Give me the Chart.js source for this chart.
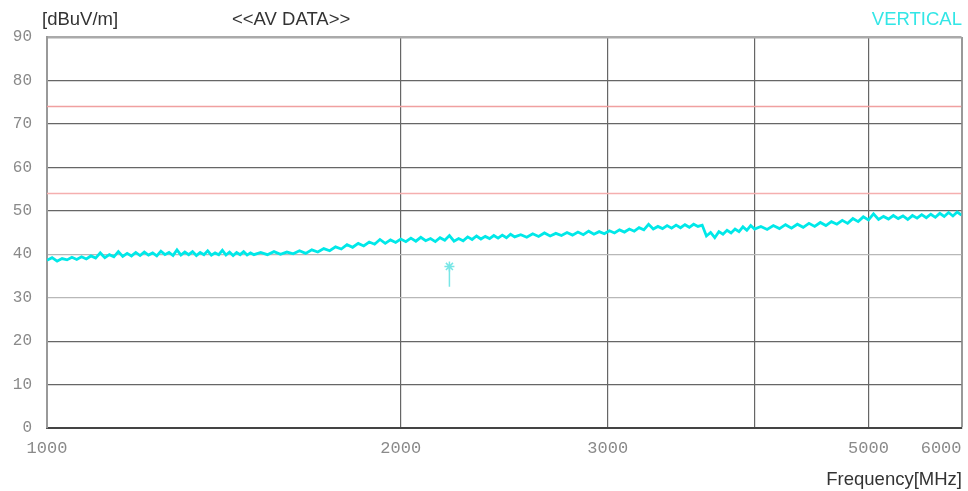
<!DOCTYPE html>
<html>
<head>
<meta charset="utf-8">
<script src="https://cdn.jsdelivr.net/npm/chart.js@4/dist/chart.umd.min.js"></script>
<style>
  html, body { margin: 0; padding: 0; background: #fff; }
  #wrap { width: 968px; height: 491px; }
</style>
</head>
<body>
<div id="wrap"><canvas id="myChart" width="968" height="491"></canvas></div>
<script>
// frequency points [MHz]
var freqs = [
  1000,1010,1020,1030,1040,1050,1060,1070,1080,1090,
  1100,1110,1120,1130,1140,1150,1160,1170,1180,1190,
  1200,1210,1220,1230,1240,1250,1260,1270,1280,1290,
  1300,1310,1320,1330,1340,1350,1360,1370,1380,1390,
  1400,1410,1420,1430,1440,1450,1460,1470,1480,1490,
  1500,
  1520,1540,1560,1580,1600,1620,1640,1660,1680,1700,
  1720,1740,1760,1780,1800,1820,1840,1860,1880,1900,
  1920,1940,1960,1980,2000,2020,2040,2060,2080,2100,
  2120,2140,2160,2180,2200,2220,2240,2260,2280,2300,
  2320,2340,2360,2380,2400,2420,2440,2460,2480,2500,
  2530,2560,2590,2620,2650,2680,2710,2740,2770,2800,
  2830,2860,2890,2920,2950,2980,3010,3040,3070,3100,
  3130,3160,3190,3220,3250,3280,3310,3340,3370,3400,
  3430,3460,3490,3520,3550,3580,3610,3640,3670,3700,
  3730,3760,3790,3820,3850,3880,3910,3940,3970,4000,
  4050,4100,4150,4200,4250,4300,4350,4400,4450,4500,
  4550,4600,4650,4700,4750,4800,4850,4900,4950,5000,
  5050,5100,5150,5200,5250,5300,5350,5400,5450,5500,
  5550,5600,5650,5700,5750,5800,5850,5900,5950,6000
];

// AV level, vertical [dBuV/m]
var avVertical = [
  38.6,39.2,38.4,39.0,38.7,39.3,38.8,39.4,38.9,39.6,
  39.1,40.3,39.2,39.9,39.4,40.6,39.5,40.2,39.6,40.4,
  39.7,40.5,39.8,40.3,39.6,40.7,39.9,40.4,39.7,41.0,
  39.8,40.5,39.9,40.6,39.7,40.4,39.9,40.8,39.8,40.3,
  39.9,40.9,39.8,40.5,39.7,40.4,39.9,40.6,39.8,40.3,
  39.9,
  40.4,39.9,40.6,40.0,40.5,40.1,40.8,40.2,41.0,40.5,
  41.3,40.8,41.7,41.2,42.2,41.6,42.5,41.9,42.8,42.3,
  43.4,42.5,43.3,42.7,43.5,42.9,43.7,43.0,43.9,43.1,
  43.6,42.9,43.8,43.2,44.3,43.0,43.6,43.1,44.0,43.4,
  44.2,43.5,44.1,43.6,44.3,43.7,44.4,43.8,44.6,44.0,
  44.5,43.9,44.7,44.1,44.9,44.2,44.8,44.3,45.0,44.4,
  45.1,44.5,45.3,44.6,45.2,44.7,45.4,44.9,45.6,45.1,
  45.8,45.3,46.1,45.6,46.9,45.8,46.4,45.9,46.6,46.0,
  46.7,46.1,46.8,46.2,46.9,46.4,46.7,44.2,45.0,43.8,
  45.2,44.6,45.5,44.9,45.8,45.2,46.3,45.5,46.6,45.8,
  46.4,45.7,46.6,45.9,46.8,46.0,46.9,46.2,47.1,46.4,
  47.3,46.6,47.5,46.9,47.8,47.1,48.2,47.5,48.6,47.9,
  49.3,48.0,48.7,48.1,48.9,48.2,48.8,48.0,48.9,48.3,
  49.1,48.4,49.2,48.5,49.4,48.7,49.6,48.8,49.7,49.0
];

// limit lines
var limitFreqs = [1000, 6000];
var limitPeak = [74, 74];
var limitAv = [54, 54];

// marker
var markerFreqs = [2200, 2200];
var markerLevels = [32.5, 37.2];

var xTicks = [1000, 2000, 3000, 4000, 5000, 6000];
// last label padded so it ends at the right edge
var xTickLabels = ['1000', '2000', '3000', '', '5000', '6000    '];
var yMax = 90;

function pts(xs, ys) {
  return xs.map(function (x, i) { return { x: x, y: ys[i] }; });
}

var textPlugin = {
  id: 'texts',
  afterDraw: function (chart) {
    var c = chart.ctx;
    c.save();
    c.font = '18.5px "Liberation Sans", Arial, sans-serif';
    c.textBaseline = 'alphabetic';
    c.fillStyle = '#333';
    c.textAlign = 'left';
    c.fillText('[dBuV/m]', 42, 25);
    c.fillText('<<AV DATA>>', 232, 25);
    c.textAlign = 'right';
    c.fillText('Frequency[MHz]', 962, 485);
    c.fillStyle = '#33e6e6';
    c.fillText('VERTICAL', 962, 25);
    c.restore();
  }
};

var ctx = document.getElementById('myChart').getContext('2d');
var myChart = new Chart(ctx, {
  type: 'line',
  data: {
    datasets: [{
      data: pts(limitFreqs, limitPeak),
      borderColor: 'rgba(240, 160, 160, 1)',
      borderWidth: 1.5,
      pointRadius: 0
    }, {
      data: pts(limitFreqs, limitAv),
      borderColor: 'rgba(245, 175, 175, 1)',
      borderWidth: 1.5,
      pointRadius: 0
    }, {
      data: pts(freqs, avVertical),
      borderColor: 'rgba(0, 232, 232, 1)',
      borderWidth: 2.8,
      pointRadius: 0
    }, {
      data: pts(markerFreqs, markerLevels),
      borderColor: 'rgba(120, 230, 230, 1)',
      borderWidth: 1.5,
      pointStyle: 'star',
      pointRadius: [0, 5],
      pointBorderColor: 'rgba(120, 230, 230, 1)',
      pointBorderWidth: 1.5
    }]
  },
  options: {
    responsive: false,
    animation: false,
    events: [],
    layout: {
      padding: { left: 0, right: 6, top: 37, bottom: 0 }
    },
    plugins: {
      legend: { display: false },
      tooltip: { enabled: false }
    },
    scales: {
      x: {
        type: 'logarithmic',
        min: 1000,
        max: 6000,
        afterBuildTicks: function (scale) {
          scale.ticks = xTicks.map(function (v) { return { value: v }; });
        },
        afterFit: function (scale) {
          scale.height = 63;
          scale.paddingLeft = 0;
          scale.paddingRight = 0;
        },
        ticks: {
          autoSkip: false,
          maxRotation: 0,
          padding: 10,
          color: '#8a8a8a',
          font: { family: '"Liberation Mono", monospace', size: 17 },
          callback: function (v) {
            var i = xTicks.indexOf(v);
            return i >= 0 ? xTickLabels[i] : '';
          }
        },
        grid: {
          drawTicks: false,
          color: function (c) {
            if (c.tick && c.tick.value === 6000) return '#999';
            return '#666';
          },
          lineWidth: function (c) {
            if (c.tick && c.tick.value === 6000) return 2;
            return 1.2;
          }
        },
        border: { color: '#444', width: 2 }
      },
      y: {
        min: 0,
        max: yMax,
        afterFit: function (scale) {
          scale.width = 47;
          scale.paddingTop = 0;
          scale.paddingBottom = 0;
        },
        ticks: {
          stepSize: 10,
          padding: 15,
          color: '#8a8a8a',
          font: { family: '"Liberation Mono", monospace', size: 16 }
        },
        grid: {
          drawTicks: false,
          color: function (c) {
            var v = c.tick ? c.tick.value : 0;
            if (v === yMax) return '#aaa';
            if (v === 40 || v === 30) return '#b8b8b8';
            return '#666';
          },
          lineWidth: function (c) {
            var v = c.tick ? c.tick.value : 0;
            if (v === yMax) return 2.5;
            return 1.2;
          }
        },
        border: { color: '#999', width: 2 }
      }
    }
  },
  plugins: [textPlugin]
});
</script>
</body>
</html>
